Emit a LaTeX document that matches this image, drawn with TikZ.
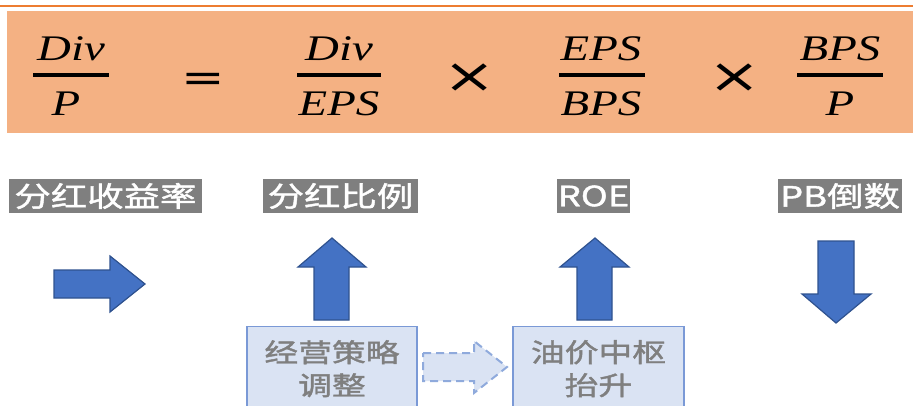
\documentclass[tikz,border=0pt]{standalone}
\usepackage{fontspec}
\newfontfamily\cjk[FakeStretch=1.3,FakeBold=1.5]{Noto Sans CJK SC}
\newfontfamily\fracfont[FakeStretch=1.3]{Liberation Serif}
\newfontfamily\symfont[FakeStretch=1.3]{DejaVu Sans}
\definecolor{topline}{HTML}{ED7D31}
\definecolor{band}{HTML}{F4B183}
\definecolor{labelgray}{HTML}{7F7F7F}
\definecolor{arrowblue}{HTML}{4472C4}
\definecolor{arrowedge}{HTML}{2F528F}
\definecolor{boxfill}{HTML}{DAE3F3}
\definecolor{boxedge}{RGB}{122,153,214}
\definecolor{dashedge}{HTML}{8FAADC}
\tikzset{
  fracnum/.style={anchor=base, inner sep=0pt, font=\fracfont\itshape\fontsize{36}{36}\selectfont},
  fracbar/.style={line width=4pt},
  opsym/.style={anchor=base, inner sep=0pt, font=\symfont\fontsize{40}{40}\selectfont},
  timessym/.style={anchor=base, inner sep=0pt, font=\symfont\fontsize{48}{48}\selectfont},
  toplabel/.style={fill=labelgray, text=white, inner sep=0pt, minimum height=34pt, font=\cjk\fontsize{28}{28}\selectfont},
  factorbox/.style={fill=boxfill, draw=boxedge, line width=1.3pt, minimum width=170pt, minimum height=84pt, anchor=north, align=center, text=labelgray, font=\cjk\fontsize{26}{33}\selectfont},
  blockarrow/.style={fill=arrowblue, draw=arrowedge, line width=1.2pt, line join=miter},
  dasharrow/.style={fill=boxfill, draw=dashedge, line width=2pt, dash pattern=on 8pt off 5pt, line join=miter}
}
\begin{document}
\begin{tikzpicture}[x=1pt,y=-1pt]
\clip (0,0) rectangle (913,405);
\fill[white] (0,0) rectangle (913,405);
% top rule and band
\draw[topline, line width=2.5pt] (0,6) -- (913,6);
\fill[band] (7,11) rectangle (915,133);
% fractions
\node[fracnum] (n1) at (71,60) {Div};
\draw[fracbar] (33,75) -- (109,75);
\node[fracnum] (d1) at (66,115) {P};
\node[opsym] (eq) at (203.5,91) {=};
\node[fracnum] (n2) at (339,60) {Div};
\draw[fracbar] (297,75) -- (381,75);
\node[fracnum] (d2) at (339,115) {EPS};
\node[timessym] (t1) at (470,92) {×};
\node[fracnum] (n3) at (601,60) {EPS};
\draw[fracbar] (559,75) -- (645,75);
\node[fracnum] (d3) at (601,115) {BPS};
\node[timessym] (t2) at (734.5,92) {×};
\node[fracnum] (n4) at (840,60) {BPS};
\draw[fracbar] (797,75) -- (883,75);
\node[fracnum] (d4) at (840,115) {P};
% labels
\node[toplabel, minimum width=193pt] (l1) at (105.5,196) {分红收益率};
\node[toplabel, minimum width=155pt] (l2) at (340.5,196) {分红比例};
\node[toplabel, minimum width=73pt] (l3) at (593.5,196) {ROE};
\node[toplabel, minimum width=124pt] (l4) at (840,196) {PB倒数};
% block arrows
\draw[blockarrow] (54,270) -- (110,270) -- (110,256) -- (145,284) -- (110,312) -- (110,298) -- (54,298) -- cycle;
\draw[blockarrow] (314,320) -- (314,267) -- (298,267) -- (332,238) -- (366,267) -- (349,267) -- (349,320) -- cycle;
\draw[blockarrow] (577,320) -- (577,267) -- (560,267) -- (595,238) -- (629,267) -- (612,267) -- (612,320) -- cycle;
\draw[blockarrow] (818,241) -- (854,241) -- (854,294) -- (871,294) -- (836,323) -- (802,294) -- (818,294) -- cycle;
% factor boxes
\node[factorbox] (f1) at (332,326) {经营策略\\调整};
\node[factorbox, minimum width=171pt] (f2) at (598.5,326) {油价中枢\\抬升};
% dashed arrow between boxes
\draw[dasharrow] (423,353) -- (474,353) -- (474,341) -- (507,367) -- (474,393) -- (474,381) -- (423,381) -- cycle;
\end{tikzpicture}
\end{document}
